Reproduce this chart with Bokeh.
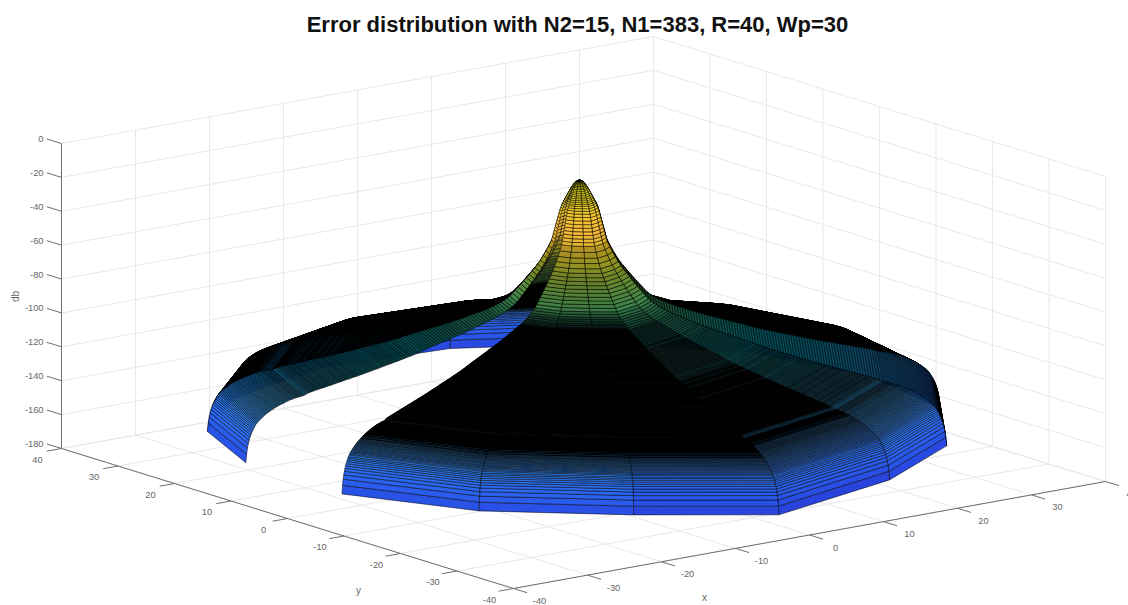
import numpy as np
from bokeh.plotting import figure
from bokeh.models import ColumnDataSource
from bokeh.core.properties import value
from bokeh.embed import file_html
from bokeh.resources import INLINE

TITLE = "Error distribution with N2=15, N1=383, R=40, Wp=30"
x_ticks = [-40, -30, -20, -10, 0, 10, 20, 30, 40]
y_ticks = [-40, -30, -20, -10, 0, 10, 20, 30, 40]
z_ticks = [0, -20, -40, -60, -80, -100, -120, -140, -160, -180]

# spoke angles (degrees) and edge depth correction (dB) read from the outer polygon
theta_deg = [193, 217, 241, 265, 289, 313, 337, 361, 385, 409, 433, 457, 481, 505, 529]
spoke_dz = [3, 3, 2, -5.5, 0, 0, 0, 0, 0, 0, 0, 0, 0, 2, 4.5]
center_xy = (-0.34, 0.26)

# radial error profile (dB)
z_inner = [-12, -12.05, -12.2, -12.5, -12.9, -13.4, -14, -14.7, -15.5, -16.3, -17.2, -18.2, -19.2, -20.2, -21.2,
           -22.2, -23.2, -24.2, -25.2, -26.4, -27.8, -29.4, -31.2, -33.2, -35.2, -37.2, -39.2, -41.2, -43.2, -45.2, -47.2]
z_mid = [-50.5, -53.5, -56.3, -59, -61.4, -63.5, -65.5, -67.5, -69.4, -71.3, -73.2, -75, -76.8, -78.6, -80.3,
         -81.6, -82.8, -83.8, -84.7, -85.6, -86.4, -87.2, -87.9, -88.5, -89.1, -89.7, -90.3, -90.9, -91.5, -92.1,
         -92.7, -93.3, -93.9, -94.4, -95, -95.5, -96, -96.5, -97, -97.5, -98, -98.5, -99, -99.5, -100,
         -100.5, -101, -101.5, -102, -102.5, -103, -103.5, -104, -104.6, -105.1, -105.6, -106.1, -106.5, -107, -107.4,
         -107.8, -108.3, -108.7, -109.1, -109.5, -109.9, -110.3, -110.7, -111.1, -111.6, -112, -112.4, -112.8, -113.2, -113.6,
         -114, -114.4, -114.8, -115.2, -115.5, -115.9, -116.3, -116.6, -117, -117.4, -117.7, -118.1, -118.5, -118.9, -119.2,
         -119.6, -120, -120.3, -120.7, -121, -121.4, -121.8, -122.2, -122.8]
z_outer = [-123.5, -123.6, -123.7, -123.8, -123.9, -124.0, -124.1, -124.2, -124.3, -124.4,
           -124.5, -124.6, -124.7, -124.9, -125.0, -125.2, -125.3, -125.5, -125.6, -125.8,
           -126.0, -126.2, -126.4, -126.6, -126.8, -127.0, -127.2, -127.4, -127.6, -127.8,
           -128.0, -128.2, -128.5, -128.7, -129.0, -129.2, -129.5, -129.8, -130.0, -130.3,
           -130.6, -130.9, -131.2, -131.5, -131.8, -132.2, -132.5, -132.9, -133.3, -133.7,
           -134.1, -134.5, -135.0, -135.4, -135.9, -136.4, -136.9, -137.5, -138.1, -139.0,
           -139.8, -140.7, -141.7, -142.8, -144.0, -145.4, -147.0, -149.0, -151.5, -155.0, -160.0]
r_inner = np.linspace(0, 3.0, len(z_inner))
r_mid = np.linspace(3.3, 32.7, len(z_mid))
r_outer = np.linspace(33.0, 40.0, len(z_outer))

PARULA = np.array([
    [.2422, .1504, .6603], [.1700, .2200, .8200], [.1600, .3000, .9000], [.1700, .3892, .9600],
    [.1763, .4847, .9892], [.1687, .5703, .9359], [.1248, .6459, .8883], [.0297, .7082, .8163],
    [.0433, .7411, .7394], [.1938, .7758, .6251], [.2906, .7973, .5188], [.4456, .8024, .3909],
    [.6174, .7876, .2612], [.7738, .7598, .1646], [.9035, .7330, .1774], [.9956, .7434, .2371],
    [.9892, .8136, .1885], [.9610, .8890, .1537], [.9769, .9839, .0805]])
C_MIN, C_MAX = -175.0, -12.0

# The reference mesh has one ring per 40/383; fill shading stands in for the ink of rings not drawn here
TRUE_RING_STEP = 40.0 / 383.0
TRUE_EDGE_PX = 0.6
DRAWN_EDGE_PX = 0.5

# Orthographic axes box, in page pixels
FRONT = np.array([513.0, 588.0])
LEFT = np.array([61.0, 448.0])
RIGHT = np.array([1105.0, 481.0])
Z_PX = -305.0 / 180.0
ex = (RIGHT - FRONT) / 80.0
ey = (LEFT - FRONT) / 80.0
ORIGIN = FRONT + 40 * ex + 40 * ey


def proj(x, y, z):
    x, y, z = np.asarray(x, float), np.asarray(y, float), np.asarray(z, float)
    return (ORIGIN[0] + x * ex[0] + y * ey[0],
            ORIGIN[1] + x * ex[1] + y * ey[1] + (z + 180.0) * Z_PX)


toward_cam = -np.cross([ex[0], ey[0], 0.0], [ex[1], ey[1], Z_PX])
if toward_cam[2] < 0:
    toward_cam = -toward_cam


def colour(z, shade):
    t = np.clip((z - C_MIN) / (C_MAX - C_MIN), 0, 1) * (len(PARULA) - 1)
    i = min(int(t), len(PARULA) - 2)
    c = (PARULA[i] * (1 - (t - i)) + PARULA[i + 1] * (t - i)) * shade
    return "#%02x%02x%02x" % tuple(int(round(v * 255)) for v in c)


p = figure(width=1128, height=605, x_range=(0, 1128), y_range=(605, 0), min_border=0,
           toolbar_location=None, output_backend="svg", outline_line_color=None,
           background_fill_color="white", border_fill_color="white")
p.axis.visible = False
p.grid.visible = False

# grid
gx, gy, GRID = [], [], "#e8e8e8"
for v in x_ticks:
    a = proj([v, v, v], [-40, 40, 40], [-180, -180, 0])
    gx.append(list(a[0])); gy.append(list(a[1]))
for v in y_ticks:
    a = proj([-40, 40, 40], [v, v, v], [-180, -180, 0])
    gx.append(list(a[0])); gy.append(list(a[1]))
for v in z_ticks:
    a = proj([-40, 40, 40], [40, 40, -40], [v, v, v])
    gx.append(list(a[0])); gy.append(list(a[1]))
p.multi_line(gx, gy, line_color=GRID, line_width=1)

# axis lines and tick marks
ax, ay = [], []
for seg in [([-40, -40], [40, 40], [-180, 0]), ([-40, -40], [40, -40], [-180, -180]), ([-40, 40], [-40, -40], [-180, -180])]:
    a = proj(*seg); ax.append(list(a[0])); ay.append(list(a[1]))
for v in z_ticks:
    a = proj([-40, -40], [40, 42.6], [v, v]); ax.append(list(a[0])); ay.append(list(a[1]))
for v in y_ticks:
    a = proj([-40, -42], [v, v], [-180, -180]); ax.append(list(a[0])); ay.append(list(a[1]))
for v in x_ticks:
    a = proj([v, v], [-40, -42.4], [-180, -180]); ax.append(list(a[0])); ay.append(list(a[1]))
p.multi_line(ax, ay, line_color="#6e6e6e", line_width=1)

# surface
radii = np.concatenate([r_inner, r_mid, r_outer])
prof = np.array(z_inner + z_mid + z_outer, float)
th = np.radians(theta_deg)
dz = np.array(spoke_dz, float)
X = center_xy[0] + np.outer(radii, np.cos(th))
Y = center_xy[1] + np.outer(radii, np.sin(th))
Z = prof[:, None] + np.outer(radii / 40.0, dz)
SX, SY = proj(X, Y, Z)
cells = []
for i in range(len(radii) - 1):
    dr = radii[i + 1] - radii[i]
    for j in range(len(th) - 1):
        ii = [i, i, i + 1, i + 1]
        jj = [j, j + 1, j + 1, j]
        tx, ty = SX[i + 1, j + 1] - SX[i + 1, j], SY[i + 1, j + 1] - SY[i + 1, j]
        sx = 0.5 * (SX[i + 1, j] + SX[i + 1, j + 1] - SX[i, j] - SX[i, j + 1])
        sy = 0.5 * (SY[i + 1, j] + SY[i + 1, j + 1] - SY[i, j] - SY[i, j + 1])
        perp = abs(sx * ty - sy * tx) / max(np.hypot(tx, ty), 1e-9) + 1e-6
        true_cover = min(1.0, TRUE_EDGE_PX / (perp * TRUE_RING_STEP / dr))
        drawn_cover = min(0.95, DRAWN_EDGE_PX / perp)
        shade = float(np.clip((1 - true_cover) / (1 - drawn_cover), 0, 1))
        lw = 1.0 if shade < 0.05 else DRAWN_EDGE_PX
        d = np.mean(X[ii, jj]) * toward_cam[0] + np.mean(Y[ii, jj]) * toward_cam[1] + np.mean(Z[ii, jj]) * toward_cam[2]
        cells.append((d, list(SX[ii, jj]), list(SY[ii, jj]), colour(np.mean(Z[ii, jj]), shade), lw))
cells.sort(key=lambda c: c[0])
src = ColumnDataSource(dict(xs=[c[1] for c in cells], ys=[c[2] for c in cells],
                            c=[c[3] for c in cells], lw=[c[4] for c in cells]))
p.patches("xs", "ys", source=src, fill_color="c", line_color="#000000", line_width="lw")

FONT = value("Liberation Sans")
TXT = "#666666"
# z labels
zx, zy = proj([-40] * len(z_ticks), [42.6] * len(z_ticks), z_ticks)
p.text(np.full(len(z_ticks), 43.0), zy, text=[str(v) for v in z_ticks], text_font=FONT, text_font_size="9.3px",
       text_color=TXT, text_align="right", text_baseline="middle")
# y labels
yx, yy = proj([-40] * len(y_ticks), y_ticks, [-180] * len(y_ticks))
p.text(yx - 24, yy + 11, text=[str(v) for v in y_ticks], text_font=FONT, text_font_size="9.3px",
       text_color=TXT, text_align="center", text_baseline="middle")
# x labels
xx, xy = proj(x_ticks, [-40] * len(x_ticks), [-180] * len(x_ticks))
p.text(xx + 26, xy + 12.5, text=[str(v) for v in x_ticks], text_font=FONT, text_font_size="9.3px",
       text_color=TXT, text_align="center", text_baseline="middle")
# axis labels
p.text([15], [296], text=["db"], angle=[np.pi / 2], text_font=FONT, text_font_size="10px", text_color=TXT,
       text_align="center", text_baseline="middle")
p.text([358], [590], text=["y"], text_font=FONT, text_font_size="10px", text_color=TXT,
       text_align="center", text_baseline="middle")
p.text([704], [597], text=["x"], text_font=FONT, text_font_size="10px", text_color=TXT,
       text_align="center", text_baseline="middle")
# title
p.text([577], [24], text=[TITLE], text_font=FONT, text_font_style="bold", text_font_size="22px",
       text_color="#111111", text_align="center", text_baseline="middle")

open("out.html", "w").write(file_html(p, INLINE))
